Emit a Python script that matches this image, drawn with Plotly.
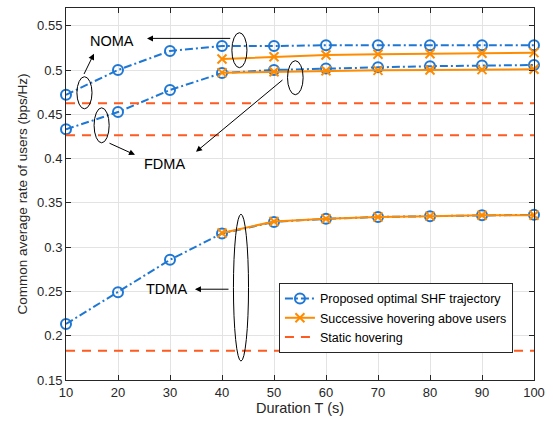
import plotly.graph_objects as go

T = [10, 20, 30, 40, 50, 60, 70, 80, 90, 100]

noma_prop = [0.472, 0.500, 0.5215, 0.527, 0.527, 0.528, 0.528, 0.528, 0.528, 0.528]
fdma_prop = [0.433, 0.4525, 0.4774, 0.4966, 0.500, 0.5018, 0.503, 0.5043, 0.505, 0.5056]
tdma_prop = [0.2132, 0.249, 0.2857, 0.3155, 0.3285, 0.332, 0.334, 0.335, 0.336, 0.3365]

noma_succ = [None, None, None, 0.5124, 0.515, 0.517, 0.5177, 0.5184, 0.519, 0.5196]
fdma_succ = [None, None, None, 0.497, 0.498, 0.4992, 0.4996, 0.500, 0.5004, 0.5008]
tdma_succ = [None, None, None, 0.316, 0.329, 0.332, 0.334, 0.335, 0.336, 0.336]

static_noma = 0.4624
static_fdma = 0.4262
static_tdma = 0.183

BLUE = "#1f77d4"
ORANGE = "#FF8C00"
RED = "#FF5A1F"
FONT = "Liberation Sans, Arial, sans-serif"

fig = go.Figure()

blue_dash = "8px,3px,2px,3px"
for i, ys in enumerate([noma_prop, fdma_prop, tdma_prop]):
    fig.add_trace(go.Scatter(
        x=T, y=ys, mode="lines+markers",
        name="Proposed optimal SHF trajectory", showlegend=(i == 0),
        line=dict(color=BLUE, width=2, dash=blue_dash),
        marker=dict(symbol="circle-open", size=10, color=BLUE, line=dict(width=2)),
        cliponaxis=False,
    ))
for i, ys in enumerate([noma_succ, fdma_succ, tdma_succ]):
    fig.add_trace(go.Scatter(
        x=T, y=ys, mode="lines+markers",
        name="Successive hovering above users", showlegend=(i == 0),
        line=dict(color=ORANGE, width=2),
        marker=dict(symbol="x-thin-open", size=9, color=ORANGE, line=dict(width=2, color=ORANGE)),
        cliponaxis=False,
    ))
for i, v in enumerate([static_noma, static_fdma, static_tdma]):
    fig.add_trace(go.Scatter(
        x=T, y=[v] * len(T), mode="lines",
        name="Static hovering", showlegend=(i == 0),
        line=dict(color=RED, width=2, dash="9px,7px"),
    ))

# Ellipses (x0, x1, y0, y1)
ellipses = [
    (12.1, 15.0, 0.4562, 0.4924),
    (15.4, 18.3, 0.4178, 0.4573),
    (41.9, 44.8, 0.5026, 0.5421),
    (52.6, 55.6, 0.4721, 0.5105),
    (42.2, 45.1, 0.1713, 0.3372),
]
for x0, x1, y0, y1 in ellipses:
    fig.add_shape(type="circle", xref="x", yref="y", x0=x0, x1=x1, y0=y0, y1=y1,
                  line=dict(color="black", width=1), layer="above")

# Arrows (tail x, tail y, head x, head y)
arrows = [
    (41.87, 0.5357, 25.58, 0.5357),
    (13.33, 0.4938, 15.38, 0.5184),
    (18.08, 0.4181, 23.27, 0.4042),
    (51.92, 0.4901, 35.0, 0.4076),
    (41.54, 0.2525, 34.8, 0.2525),
]
for tx, ty, hx, hy in arrows:
    fig.add_annotation(x=hx, y=hy, ax=tx, ay=ty, xref="x", yref="y", axref="x", ayref="y",
                       text="", showarrow=True, arrowhead=2, arrowsize=1.2, arrowwidth=1,
                       arrowcolor="black")

labels = [("NOMA", 18.85, 0.533), ("FDMA", 29.0, 0.394), ("TDMA", 29.4, 0.2525)]
for txt, x, y in labels:
    fig.add_annotation(x=x, y=y, xref="x", yref="y", text=txt, showarrow=False,
                       font=dict(family=FONT, size=14.5, color="black"))

axis_common = dict(
    showgrid=True, gridcolor="#e3e3e3", gridwidth=1,
    showline=True, linecolor="#262626", linewidth=1, mirror="ticks",
    ticks="inside", ticklen=5, tickcolor="#262626",
    tickfont=dict(family=FONT, size=13, color="#262626"),
    zeroline=False,
)

fig.update_xaxes(range=[10, 100], tickvals=T, ticktext=[str(t) for t in T],
                 title=dict(text="Duration T (s)", font=dict(family=FONT, size=14.5, color="#262626"), standoff=4),
                 **axis_common)
yticks = [0.15, 0.2, 0.25, 0.3, 0.35, 0.4, 0.45, 0.5, 0.55]
fig.update_yaxes(range=[0.15, 0.57], tickvals=yticks, ticktext=[f"{v:g}" for v in yticks],
                 title=dict(text="Common average rate of users (bps/Hz)", font=dict(family=FONT, size=13.5, color="#262626"), standoff=6),
                 **axis_common)

fig.update_layout(
    width=553, height=423,
    margin=dict(l=66, r=19, t=8, b=43),
    plot_bgcolor="white", paper_bgcolor="white",
    font=dict(family=FONT, color="#262626"),
    legend=dict(x=0.455, y=0.261, xanchor="left", yanchor="top",
                bgcolor="white", bordercolor="#262626", borderwidth=1,
                font=dict(family=FONT, size=12.5, color="black"),
                itemwidth=30, tracegroupgap=0),
)

fig.write_html("out.html", config={"displayModeBar": False},
               post_script="document.body.style.margin='0';document.body.style.padding='0';document.body.style.overflow='hidden';")
